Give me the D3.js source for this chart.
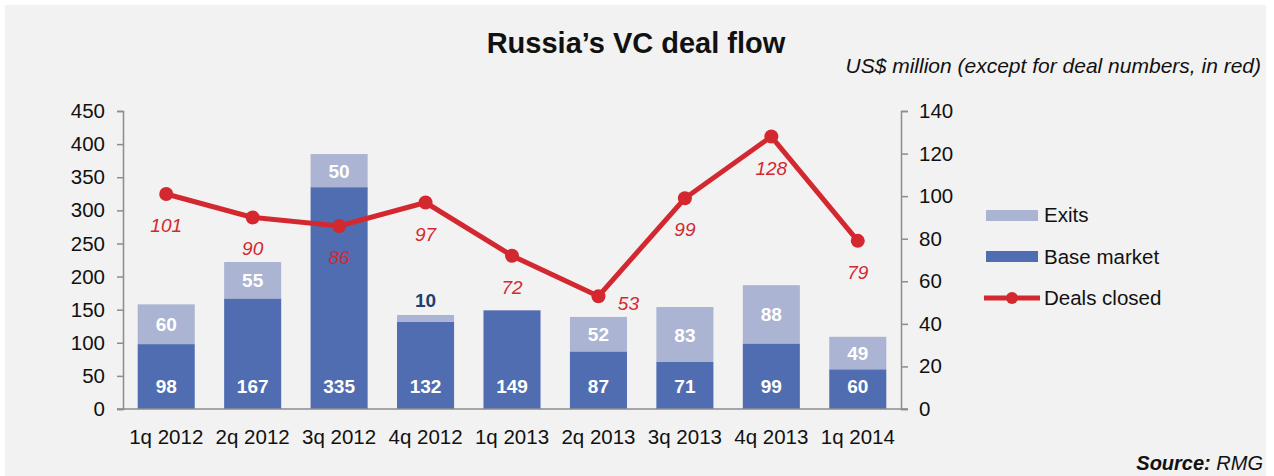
<!DOCTYPE html>
<meta charset="utf-8">
<script src="https://d3js.org/d3.v7.min.js"></script>
<style>
  body { margin: 0; background: #fff; }
  svg { font-family: "Liberation Sans", Arial, sans-serif; }
</style>
<div id="chart"></div>
<script>
// data
var quarters = ["1q 2012", "2q 2012", "3q 2012", "4q 2012", "1q 2013", "2q 2013", "3q 2013", "4q 2013", "1q 2014"];
var baseMarket = [98, 167, 335, 132, 149, 87, 71, 99, 60];
var exits = [60, 55, 50, 10, 0, 52, 83, 88, 49];
var deals = [101, 90, 86, 97, 72, 53, 99, 128, 79];
var leftTicks = [0, 50, 100, 150, 200, 250, 300, 350, 400, 450];
var rightTicks = [0, 20, 40, 60, 80, 100, 120, 140];

var W = 1274, H = 476;
var margin = {top: 111, left: 123, right: 373, bottom: 67};
var width = W - margin.left - margin.right,
    height = H - margin.top - margin.bottom;

var svg = d3.select("#chart").append("svg")
  .attr("width", W).attr("height", H);

// gray panel
svg.append("rect").attr("x", 5).attr("y", 5).attr("width", 1261).attr("height", H - 5)
  .attr("fill", "#f2f2f2");

var g = svg.append("g").attr("transform", "translate(" + margin.left + "," + margin.top + ")");

var x = d3.scaleBand().domain(quarters).range([0, width]).paddingInner(0.34).paddingOuter(0.17);
var y = d3.scaleLinear().domain([0, 450]).range([height, 0]);
var y2 = d3.scaleLinear().domain([0, 140]).range([height, 0]);

var baseColor = "#516db1", exitColor = "#abb4d3", red = "#d3282f";

// bars
g.selectAll(".base").data(quarters).enter().append("rect")
  .attr("x", function(d) { return x(d); })
  .attr("y", function(d, i) { return y(baseMarket[i]); })
  .attr("width", x.bandwidth())
  .attr("height", function(d, i) { return height - y(baseMarket[i]); })
  .attr("fill", baseColor);

g.selectAll(".exit").data(quarters).enter().append("rect")
  .attr("x", function(d) { return x(d); })
  .attr("y", function(d, i) { return y(baseMarket[i] + exits[i]); })
  .attr("width", x.bandwidth())
  .attr("height", function(d, i) { return y(baseMarket[i]) - y(baseMarket[i] + exits[i]); })
  .attr("fill", exitColor);

// axes
function styleAxis(sel) {
  sel.selectAll("path, line").attr("stroke", "#8c8c8c").attr("stroke-width", 1.5);
  sel.selectAll("text").attr("fill", "#111").style("font-size", "20.5px")
    .style("font-family", "Liberation Sans, Arial, sans-serif");
}

g.append("g").call(d3.axisLeft(y).tickValues(leftTicks).tickSizeInner(6).tickSizeOuter(6).tickPadding(12))
  .call(styleAxis);
g.append("g").attr("transform", "translate(" + width + ",0)")
  .call(d3.axisRight(y2).tickValues(rightTicks).tickSizeInner(7).tickSizeOuter(7).tickPadding(11))
  .call(styleAxis);
var xAxis = g.append("g").attr("transform", "translate(0," + height + ")")
  .call(d3.axisBottom(x).tickSize(0).tickPadding(20));
styleAxis(xAxis);
xAxis.select("path").attr("d", "M-6,0H" + (width + 7));

// bar labels
g.selectAll(".blabel").data(quarters).enter().append("text")
  .attr("x", function(d) { return x(d) + x.bandwidth() / 2; })
  .attr("y", height - 16)
  .attr("text-anchor", "middle")
  .attr("fill", "#fff").style("font-weight", "bold").style("font-size", "19px")
  .text(function(d, i) { return baseMarket[i]; });

g.selectAll(".elabel").data(quarters.filter(function(d, i) { return exits[i] > 0; })).enter().append("text")
  .each(function(d) {
    var i = quarters.indexOf(d);
    var small = exits[i] < 20;
    var top = y(baseMarket[i] + exits[i]);
    d3.select(this)
      .attr("x", x(d) + x.bandwidth() / 2)
      .attr("y", small ? top - 8 : (top + y(baseMarket[i])) / 2 + 7)
      .attr("fill", small ? "#1f3f73" : "#fff")
      .text(exits[i]);
  })
  .attr("text-anchor", "middle")
  .style("font-weight", "bold").style("font-size", "19px");

// deals line
var line = d3.line()
  .x(function(d, i) { return x(quarters[i]) + x.bandwidth() / 2; })
  .y(function(d) { return y2(d); });
g.append("path").datum(deals).attr("d", line)
  .attr("fill", "none").attr("stroke", red).attr("stroke-width", 5);
g.selectAll(".dot").data(deals).enter().append("circle")
  .attr("cx", function(d, i) { return x(quarters[i]) + x.bandwidth() / 2; })
  .attr("cy", function(d) { return y2(d); })
  .attr("r", 7).attr("fill", red);
g.selectAll(".dlabel").data(deals).enter().append("text")
  .attr("x", function(d, i) { return x(quarters[i]) + x.bandwidth() / 2 + (d === 53 ? 30 : 0); })
  .attr("y", function(d) { return y2(d) + (d === 53 ? 14 : 38); })
  .attr("text-anchor", "middle")
  .attr("fill", red).style("font-style", "italic").style("font-size", "19px")
  .text(function(d) { return d; });

// title
svg.append("text").attr("x", 636).attr("y", 53).attr("text-anchor", "middle")
  .style("font-weight", "bold").style("font-size", "29px").attr("fill", "#111")
  .text("Russia\u2019s VC deal flow");
svg.append("text").attr("x", 1261).attr("y", 73).attr("text-anchor", "end")
  .style("font-style", "italic").style("font-size", "21px").attr("fill", "#111")
  .text("US$ million (except for deal numbers, in red)");

// legend
var legend = svg.append("g");
legend.append("rect").attr("x", 986).attr("y", 210).attr("width", 52).attr("height", 11).attr("fill", exitColor);
legend.append("rect").attr("x", 986).attr("y", 251).attr("width", 52).attr("height", 11).attr("fill", baseColor);
legend.append("line").attr("x1", 984).attr("x2", 1040).attr("y1", 298).attr("y2", 298)
  .attr("stroke", red).attr("stroke-width", 5);
legend.append("circle").attr("cx", 1012).attr("cy", 298).attr("r", 6).attr("fill", red);
var legendNames = ["Exits", "Base market", "Deals closed"];
legend.selectAll(".lt").data(legendNames).enter().append("text")
  .attr("x", 1044).attr("y", function(d, i) { return 222 + i * 41.5; })
  .style("font-size", "20.5px").attr("fill", "#111")
  .text(function(d) { return d; });

// source
var src = svg.append("text").attr("x", 1263).attr("y", 470).attr("text-anchor", "end")
  .style("font-style", "italic").style("font-size", "20px").attr("fill", "#111");
src.append("tspan").style("font-weight", "bold").text("Source:");
src.append("tspan").text(" RMG");
</script>
